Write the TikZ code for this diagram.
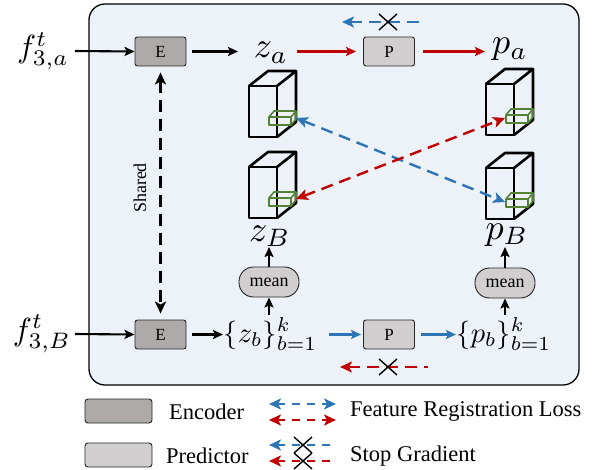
\documentclass[tikz,border=0pt]{standalone}
\usepackage{fontspec}
\setmainfont{Liberation Serif}
\usetikzlibrary{arrows.meta,calc}
\definecolor{bgc}{RGB}{237,242,249}
\definecolor{encg}{RGB}{174,170,170}
\definecolor{predg}{RGB}{208,206,206}
\definecolor{myblue}{RGB}{46,117,182}
\definecolor{myred}{RGB}{192,0,0}
\definecolor{mygreen}{RGB}{84,130,53}
\tikzset{
  box/.style={draw=black!85, rounded corners=2.5pt, minimum width=51pt, minimum height=29pt, inner sep=0pt, line width=0.9pt, font=\fontsize{17}{20}\selectfont},
  encbox/.style={box, fill=encg},
  predbox/.style={box, fill=predg},
  meanbox/.style={draw=black!85, fill=predg, rounded corners=14.5pt, minimum width=60pt, minimum height=30pt, line width=0.9pt, font=\fontsize{18}{20}\selectfont, inner sep=0pt},
  bigmath/.style={inner sep=0pt, anchor=base, font=\fontsize{10}{12}\selectfont, scale=3.6},
  fmath/.style={inner sep=0pt, anchor=base, font=\fontsize{10}{12}\selectfont, scale=3.2},
  setmath/.style={inner sep=0pt, anchor=base west, font=\fontsize{10}{12}\selectfont, scale=2.85},
  arr/.style={line width=2.1pt, -{Stealth[length=10pt,width=9pt,inset=2pt]}},
  redarr/.style={arr, color=myred},
  bluearr/.style={arr, color=myblue},
  dashln/.style={line width=2.4pt, dash pattern=on 12pt off 7pt},
  dtip/.style={{Stealth[length=12pt,width=11pt,inset=3pt]}-{Stealth[length=12pt,width=11pt,inset=3pt]}},
  ltip/.style={{Stealth[length=12pt,width=11pt,inset=3pt]}-},
  cubeline/.style={line width=2.6pt, line join=round},
  greenbox/.style={draw=mygreen, line width=1.6pt, line join=round},
  crossln/.style={line width=1.4pt, black},
  legtext/.style={font=\fontsize{22.5}{26}\selectfont, anchor=west, inner sep=0pt},
}
\newcommand\mycube[2]{%
\begin{scope}[shift={#2}]
\draw[cubeline] (0,0) rectangle (28,51);
\draw[cubeline] (0,0) -- (19,-15) -- (47,-15) -- (28,0);
\draw[cubeline] (28,51) -- (47,36) -- (47,-15);
\draw[greenbox] (20,31) rectangle (42,39) (20,31) -- (25,25) -- (47,25) -- (42,31) (42,39) -- (47,33) -- (47,25);
\coordinate (#1-r) at (47,32);
\coordinate (#1-l) at (19,34);
\end{scope}}
\newcommand\mycross[1]{%
\draw[crossln] ($(#1)+(-9,-8)$) -- ($(#1)+(9,8)$) ($(#1)+(-9,8)$) -- ($(#1)+(9,-8)$);}
\begin{document}
\begin{tikzpicture}[x=1pt,y=-1pt]
\useasboundingbox (0,0) rectangle (593,470);
% main panel
\draw[fill=bgc, line width=1.3pt, rounded corners=16pt] (89,4) rectangle (579,385);

% nodes
\node[fmath] (fa) at (43,58) {$f^{t}_{3,a}$};
\node[fmath] (fb) at (42,340) {$f^{t}_{3,B}$};
\node[encbox] (Ea) at (160.5,51.5) {E};
\node[encbox] (Eb) at (160.5,334.5) {E};
\node[bigmath] (za) at (271,58) {$z_a$};
\node[predbox] (Pa) at (389,51.5) {P};
\node[bigmath] (pa) at (510,54) {$p_a$};
\node[bigmath] (zB) at (270,241) {$z_B$};
\node[bigmath] (pB) at (507,239) {$p_B$};
\node[meanbox] (ma) at (269,282) {mean};
\node[meanbox] (mb) at (505,283) {mean};
\node[setmath] (zs) at (223,342) {$\{z_b\}_{b=1}^{k}$};
\node[predbox] (Pb) at (389,334.5) {P};
\node[setmath] (ps) at (456,342) {$\{p_b\}_{b=1}^{k}$};
\node[rotate=90, inner sep=0pt, font=\fontsize{18}{20}\selectfont] (sh) at (140,188) {Shared};

% cubes
\mycube{LT}{(249,86)}
\mycube{LB}{(249,167)}
\mycube{RT}{(486,84)}
\mycube{RB}{(486,168)}

% connectors
\draw[arr] (75,51) -- (Ea.west);
\draw[arr] (75,334) -- (Eb.west);
\draw[arr] (Ea.east) ++(6,0) -- (238,51.5);
\draw[arr] (Eb.east) ++(6,0) -- (223,334.5);
\draw[redarr] (297,51.5) -- ([xshift=-7pt]Pa.west);
\draw[redarr] ([xshift=8pt]Pa.east) -- (485,51.5);
\draw[bluearr] (329,334.5) -- ([xshift=-2pt]Pb.west);
\draw[bluearr] ([xshift=6pt]Pb.east) -- (456,334.5);
\draw[arr] (ma.north) -- (269,247);
\draw[arr] (269,315) -- (ma.south);
\draw[arr] (mb.north) -- (505,247);
\draw[arr] (505,315) -- (mb.south);
\draw[dashln, dtip, shorten <=6pt, shorten >=6pt] (Ea.south) -- (Eb.north);

\draw[dashln, dtip, color=myblue] (LT-r) -- (RB-l);
\draw[dashln, dtip, color=myred] (LB-r) -- (RT-l);

% stop gradient
\coordinate (sgT1) at (426,22); \coordinate (sgT2) at (342,22); \coordinate (xT) at (388,22);
\draw[dashln, ltip, color=myblue] (sgT2) -- (sgT1);
\mycross{xT}
\coordinate (sgB1) at (428,367); \coordinate (sgB2) at (340,367); \coordinate (xB) at (388,367);
\draw[dashln, ltip, color=myred] (sgB2) -- (sgB1);
\mycross{xB}

% legend
\node[draw=black!85, fill=encg, rounded corners=3pt, minimum width=67pt, minimum height=24pt, inner sep=0pt, line width=0.9pt] (lenc) at (118.5,411) {};
\node[draw=black!85, fill=predg, rounded corners=3pt, minimum width=67pt, minimum height=24pt, inner sep=0pt, line width=0.9pt] (lpred) at (118.5,455) {};
\node[legtext] (tenc) at (169,412) {Encoder};
\node[legtext] (tpred) at (166,456) {Predictor};
\coordinate (lb1) at (269,404); \coordinate (lb2) at (336,404);
\coordinate (lr1) at (269,420); \coordinate (lr2) at (336,420);
\draw[dashln, dtip, color=myblue, dash pattern=on 8pt off 7pt] (lb1) -- (lb2);
\draw[dashln, dtip, color=myred, dash pattern=on 8pt off 7pt] (lr1) -- (lr2);
\node[legtext] (tfr) at (350,411) {Feature Registration Loss};
\coordinate (ls1) at (269,445); \coordinate (ls2) at (336,445); \coordinate (lx1) at (303,445);
\coordinate (lt1) at (269,461); \coordinate (lt2) at (336,461); \coordinate (lx2) at (303,461);
\draw[dashln, ltip, color=myblue, dash pattern=on 8pt off 7pt] (ls1) -- (ls2);
\draw[dashln, ltip, color=myred, dash pattern=on 8pt off 7pt] (lt1) -- (lt2);
\mycross{lx1}
\mycross{lx2}
\node[legtext] (tsg) at (350,456) {Stop Gradient};
\end{tikzpicture}
\end{document}
